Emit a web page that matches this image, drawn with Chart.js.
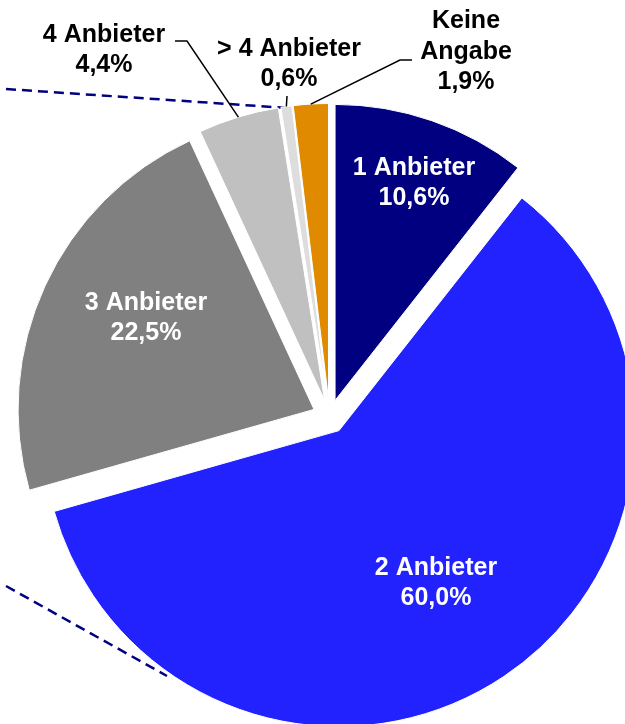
<!DOCTYPE html>
<html>
<head>
<meta charset="utf-8">
<script src="https://cdn.jsdelivr.net/npm/chart.js@4"></script>
<style>
  html, body { margin: 0; padding: 0; background: #fff; }
  canvas { display: block; }
</style>
</head>
<body>
<canvas id="anbieterChart" width="625" height="724"></canvas>
<script>
// data
const categories = ["1 Anbieter", "2 Anbieter", "3 Anbieter", "4 Anbieter", "> 4 Anbieter", "Keine Angabe"];
const shares = [10.6, 60.0, 22.5, 4.4, 0.6, 1.9];
const sliceColors = ["#000080", "#2222FF", "#808080", "#C0C0C0", "#DDDDDD", "#E08A00"];

const FONT = "bold 25px 'Liberation Sans', Arial, sans-serif";
const LINE_H = 30.5;

function pctText(v) {
    return v.toFixed(1).replace(".", ",") + "%";
}

function labelLines(i) {
    const name = categories[i];
    const parts = name === "Keine Angabe" ? name.split(" ") : [name];
    return parts.concat([pctText(shares[i])]);
}

// pull the slices apart (exploded pie)
const explodePlugin = {
    id: "explode",
    afterDatasetUpdate(chart, args, opts) {
        args.meta.data.forEach((arc) => {
            const mid = (arc.startAngle + arc.endAngle) / 2;
            arc.x += Math.cos(mid) * opts.distance;
            arc.y += Math.sin(mid) * opts.distance;
        });
    }
};

// dashed connector lines coming in from the left
const connectorPlugin = {
    id: "connectors",
    beforeDatasetsDraw(chart, args, opts) {
        const ctx = chart.ctx;
        ctx.save();
        ctx.strokeStyle = "#000080";
        ctx.lineWidth = 2.5;
        ctx.setLineDash([10, 6]);
        opts.lines.forEach((l) => {
            ctx.beginPath();
            ctx.moveTo(l[0], l[1]);
            ctx.lineTo(l[2], l[3]);
            ctx.stroke();
        });
        ctx.restore();
    }
};

function drawBlock(ctx, lines, cx, cy, color) {
    ctx.fillStyle = color;
    lines.forEach((t, k) => {
        const midY = cy + (k - (lines.length - 1) / 2) * LINE_H;
        ctx.fillText(t, cx, midY + 9);
    });
}

const labelPlugin = {
    id: "sliceLabels",
    afterDatasetsDraw(chart, args, opts) {
        const ctx = chart.ctx;
        const arcs = chart.getDatasetMeta(0).data;
        ctx.save();
        ctx.font = FONT;
        ctx.textAlign = "center";
        ctx.textBaseline = "alphabetic";

        // labels inside the big slices
        Object.keys(opts.inside).forEach((k) => {
            const p = opts.inside[k];
            drawBlock(ctx, labelLines(Number(k)), p[0], p[1], "#fff");
        });

        // labels outside with leader lines
        Object.keys(opts.outside).forEach((k) => {
            const i = Number(k);
            const o = opts.outside[k];
            const arc = arcs[i];
            const mid = (arc.startAngle + arc.endAngle) / 2;
            const ex = arc.x + Math.cos(mid) * arc.outerRadius;
            const ey = arc.y + Math.sin(mid) * arc.outerRadius;

            ctx.strokeStyle = "#000";
            ctx.lineWidth = 1.5;
            ctx.beginPath();
            ctx.moveTo(o.leader[0][0], o.leader[0][1]);
            for (let j = 1; j < o.leader.length; j++) ctx.lineTo(o.leader[j][0], o.leader[j][1]);
            ctx.lineTo(ex, ey);
            ctx.stroke();

            drawBlock(ctx, labelLines(i), o.x, o.y, "#000");
        });
        ctx.restore();
    }
};

const anbieterChart = new Chart(document.getElementById("anbieterChart"), {
    type: "pie",
    data: {
        labels: categories,
        datasets: [{
            data: shares,
            backgroundColor: sliceColors,
            borderColor: "#fff",
            borderWidth: 1,
            clip: false
        }]
    },
    options: {
        responsive: false,
        animation: false,
        radius: 296,
        layout: { padding: { left: 34, top: 109, right: 0, bottom: 0 } },
        plugins: {
            legend: { display: false },
            tooltip: { enabled: false },
            explode: { distance: 17 },
            connectors: {
                lines: [
                    [6, 89, 288, 108],
                    [6, 586, 167, 676]
                ]
            },
            sliceLabels: {
                inside: { 0: [414, 181], 1: [436, 581], 2: [146, 316] },
                outside: {
                    3: { x: 104, y: 48, leader: [[175, 41], [187, 41]] },
                    4: { x: 289, y: 62, leader: [[287, 96]] },
                    5: { x: 466, y: 49.5, leader: [[412, 60], [400, 60]] }
                }
            }
        }
    },
    plugins: [explodePlugin, connectorPlugin, labelPlugin]
});
</script>
</body>
</html>
